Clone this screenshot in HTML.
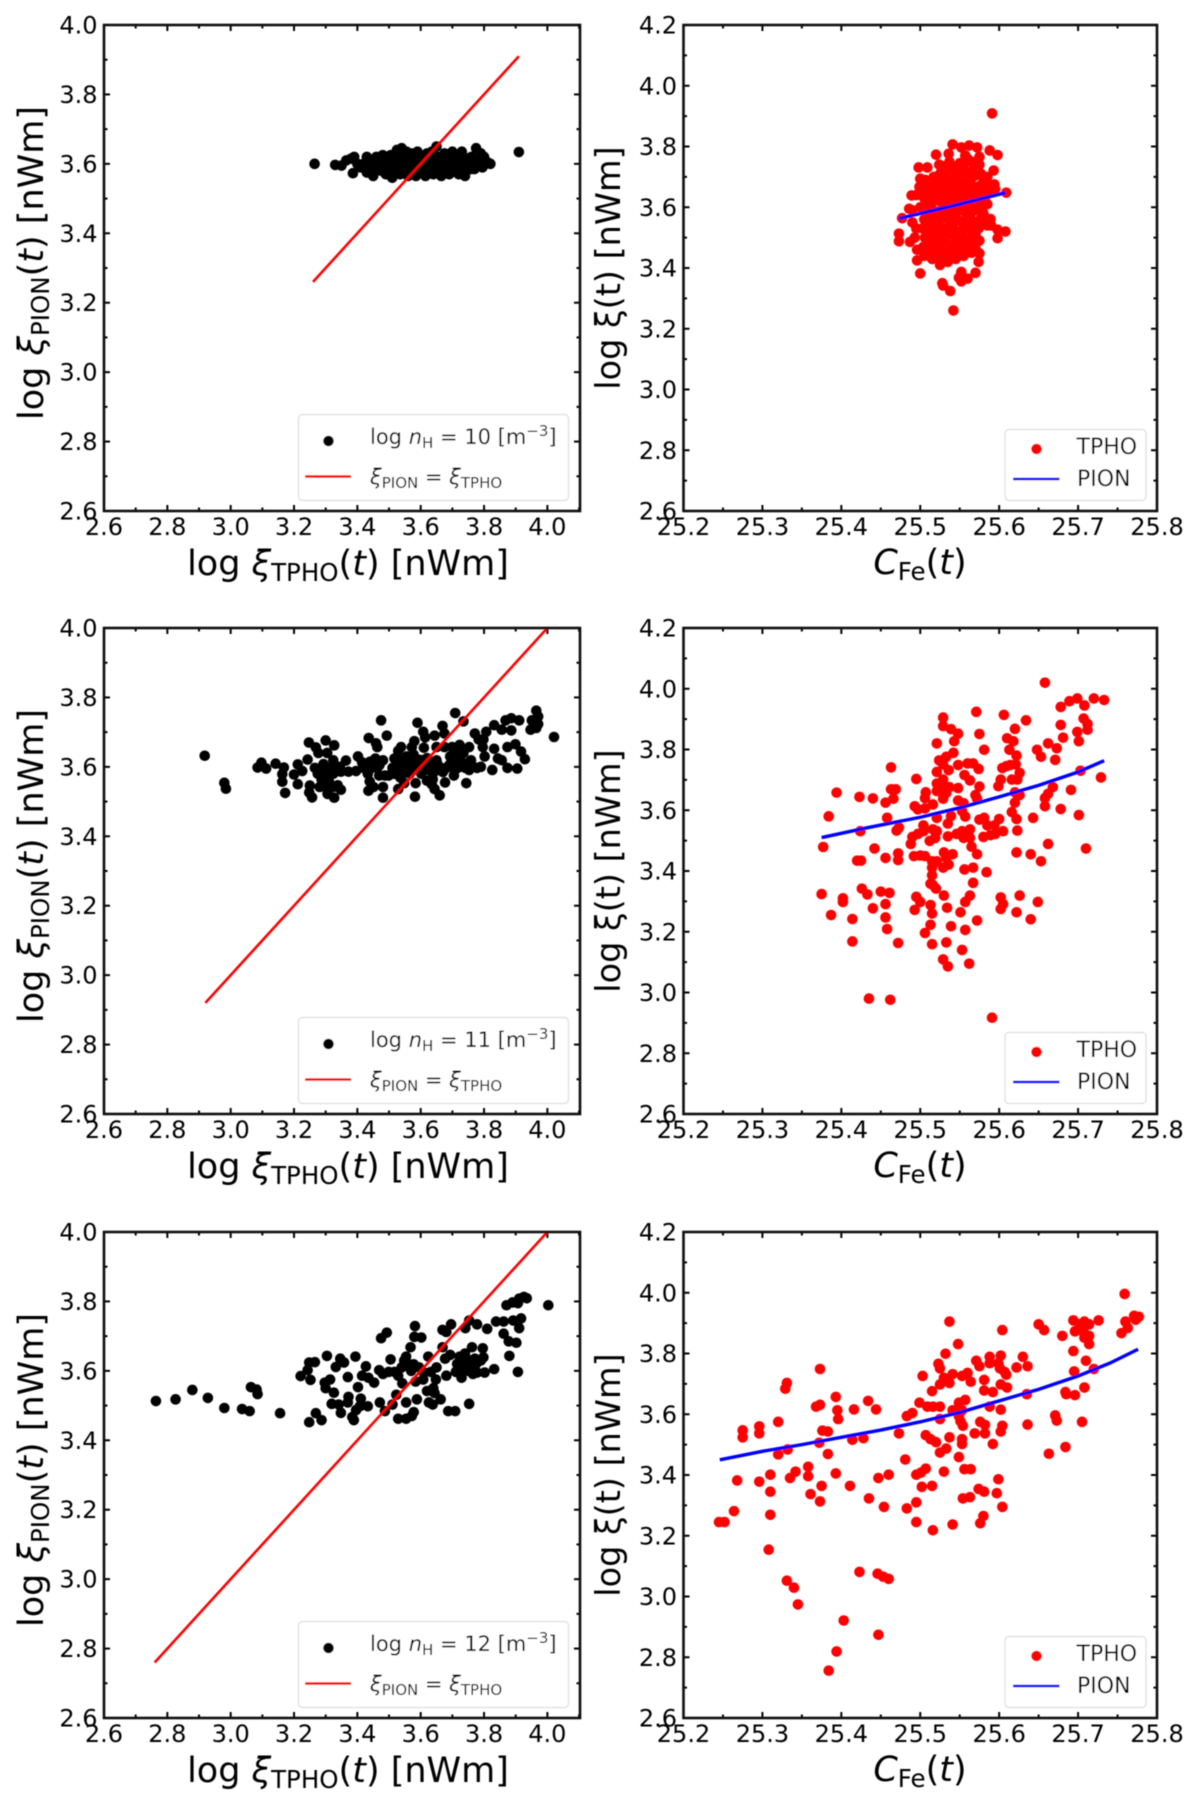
<!DOCTYPE html>
<html lang="en">
<head>
<meta charset="utf-8">
<title>Six scatter panels comparing PION and TPHO</title>
<style>
html,body{margin:0;padding:0;background:#fff;}
svg{display:block;}
text{font-family:"DejaVu Sans","Liberation Sans",sans-serif;fill:#000;}
.ax{font-size:35px;}
.tk{font-size:24px;}
.lg{font-size:21px;}
.it{font-style:italic;}
</style>
</head>
<body>
<svg id="figure" xmlns="http://www.w3.org/2000/svg" width="1200" height="1807" viewBox="0 0 1200 1807">
<defs><filter id="soft" x="-2%" y="-2%" width="104%" height="104%"><feGaussianBlur stdDeviation="0.55"/></filter></defs>
<rect width="1200" height="1807" fill="#fff"/>
<g filter="url(#soft)">

<g id="p1l">
<g class="marks"></g>
<text class="ax" x="348" y="575" text-anchor="middle">log <tspan class="it">ξ</tspan><tspan font-size="24.5" dy="6">TPHO</tspan><tspan dy="-6">(</tspan><tspan class="it">t</tspan>) [nWm]</text>
<text class="ax" transform="translate(43,263) rotate(-90)" text-anchor="middle">log <tspan class="it">ξ</tspan><tspan font-size="24.5" dy="6">PION</tspan><tspan dy="-6">(</tspan><tspan class="it">t</tspan>) [nWm]</text>
<g>
<rect x="298.5" y="414.5" width="270" height="86" rx="4" fill="#fff" fill-opacity="0.8" stroke="#ddd" stroke-width="1.2"/>
<circle cx="328.5" cy="441" r="5.3" fill="#000"/>
<text class="lg" x="370" y="444">log <tspan class="it">n</tspan><tspan font-size="15" dy="4">H</tspan><tspan dy="-4"> = 10 [m</tspan><tspan font-size="15" dy="-8">−3</tspan><tspan dy="8">]</tspan></text>
<line x1="305" x2="351" y1="476.5" y2="476.5" stroke="#f00" stroke-width="2.4"/>
<text class="lg" x="370" y="484"><tspan class="it">ξ</tspan><tspan font-size="15" dy="4">PION</tspan><tspan dy="-4"> = </tspan><tspan class="it">ξ</tspan><tspan font-size="15" dy="4">TPHO</tspan></text>
</g>
</g>

<g id="p1r">
<g class="marks"></g>
<text class="ax" x="920" y="574" text-anchor="middle"><tspan class="it">C</tspan><tspan font-size="24.5" dy="6">Fe</tspan><tspan dy="-6">(</tspan><tspan class="it">t</tspan>)</text>
<text class="ax" transform="translate(620,268) rotate(-90)" text-anchor="middle" style="font-size:33.5px">log ξ(t) [nWm]</text>
<g>
<rect x="1005" y="429.5" width="141" height="71" rx="4" fill="#fff" fill-opacity="0.8" stroke="#ddd" stroke-width="1.2"/>
<circle cx="1036.5" cy="449" r="5.3" fill="#f00"/>
<text class="lg" x="1076.5" y="454" style="font-size:22px">TPHO</text>
<line x1="1013" x2="1059.5" y1="479" y2="479" stroke="#00f" stroke-width="2.6"/>
<text class="lg" x="1077" y="486" style="font-size:22px">PION</text>
</g>
</g>

<g id="p2l" transform="translate(0,603)">
<g class="marks"></g>
<text class="ax" x="348" y="575" text-anchor="middle">log <tspan class="it">ξ</tspan><tspan font-size="24.5" dy="6">TPHO</tspan><tspan dy="-6">(</tspan><tspan class="it">t</tspan>) [nWm]</text>
<text class="ax" transform="translate(43,263) rotate(-90)" text-anchor="middle">log <tspan class="it">ξ</tspan><tspan font-size="24.5" dy="6">PION</tspan><tspan dy="-6">(</tspan><tspan class="it">t</tspan>) [nWm]</text>
<g>
<rect x="298.5" y="414.5" width="270" height="86" rx="4" fill="#fff" fill-opacity="0.8" stroke="#ddd" stroke-width="1.2"/>
<circle cx="328.5" cy="441" r="5.3" fill="#000"/>
<text class="lg" x="370" y="444">log <tspan class="it">n</tspan><tspan font-size="15" dy="4">H</tspan><tspan dy="-4"> = 11 [m</tspan><tspan font-size="15" dy="-8">−3</tspan><tspan dy="8">]</tspan></text>
<line x1="305" x2="351" y1="476.5" y2="476.5" stroke="#f00" stroke-width="2.4"/>
<text class="lg" x="370" y="484"><tspan class="it">ξ</tspan><tspan font-size="15" dy="4">PION</tspan><tspan dy="-4"> = </tspan><tspan class="it">ξ</tspan><tspan font-size="15" dy="4">TPHO</tspan></text>
</g>
</g>

<g id="p2r" transform="translate(0,603)">
<g class="marks"></g>
<text class="ax" x="920" y="574" text-anchor="middle"><tspan class="it">C</tspan><tspan font-size="24.5" dy="6">Fe</tspan><tspan dy="-6">(</tspan><tspan class="it">t</tspan>)</text>
<text class="ax" transform="translate(620,268) rotate(-90)" text-anchor="middle" style="font-size:33.5px">log ξ(t) [nWm]</text>
<g>
<rect x="1005" y="429.5" width="141" height="71" rx="4" fill="#fff" fill-opacity="0.8" stroke="#ddd" stroke-width="1.2"/>
<circle cx="1036.5" cy="449" r="5.3" fill="#f00"/>
<text class="lg" x="1076.5" y="454" style="font-size:22px">TPHO</text>
<line x1="1013" x2="1059.5" y1="479" y2="479" stroke="#00f" stroke-width="2.6"/>
<text class="lg" x="1077" y="486" style="font-size:22px">PION</text>
</g>
</g>

<g id="p3l" transform="translate(0,1207)">
<g class="marks"></g>
<text class="ax" x="348" y="575" text-anchor="middle">log <tspan class="it">ξ</tspan><tspan font-size="24.5" dy="6">TPHO</tspan><tspan dy="-6">(</tspan><tspan class="it">t</tspan>) [nWm]</text>
<text class="ax" transform="translate(43,263) rotate(-90)" text-anchor="middle">log <tspan class="it">ξ</tspan><tspan font-size="24.5" dy="6">PION</tspan><tspan dy="-6">(</tspan><tspan class="it">t</tspan>) [nWm]</text>
<g>
<rect x="298.5" y="414.5" width="270" height="86" rx="4" fill="#fff" fill-opacity="0.8" stroke="#ddd" stroke-width="1.2"/>
<circle cx="328.5" cy="441" r="5.3" fill="#000"/>
<text class="lg" x="370" y="444">log <tspan class="it">n</tspan><tspan font-size="15" dy="4">H</tspan><tspan dy="-4"> = 12 [m</tspan><tspan font-size="15" dy="-8">−3</tspan><tspan dy="8">]</tspan></text>
<line x1="305" x2="351" y1="476.5" y2="476.5" stroke="#f00" stroke-width="2.4"/>
<text class="lg" x="370" y="484"><tspan class="it">ξ</tspan><tspan font-size="15" dy="4">PION</tspan><tspan dy="-4"> = </tspan><tspan class="it">ξ</tspan><tspan font-size="15" dy="4">TPHO</tspan></text>
</g>
</g>

<g id="p3r" transform="translate(0,1207)">
<g class="marks"></g>
<text class="ax" x="920" y="574" text-anchor="middle"><tspan class="it">C</tspan><tspan font-size="24.5" dy="6">Fe</tspan><tspan dy="-6">(</tspan><tspan class="it">t</tspan>)</text>
<text class="ax" transform="translate(620,268) rotate(-90)" text-anchor="middle" style="font-size:33.5px">log ξ(t) [nWm]</text>
<g>
<rect x="1005" y="429.5" width="141" height="71" rx="4" fill="#fff" fill-opacity="0.8" stroke="#ddd" stroke-width="1.2"/>
<circle cx="1036.5" cy="449" r="5.3" fill="#f00"/>
<text class="lg" x="1076.5" y="454" style="font-size:22px">TPHO</text>
<line x1="1013" x2="1059.5" y1="479" y2="479" stroke="#00f" stroke-width="2.6"/>
<text class="lg" x="1077" y="486" style="font-size:22px">PION</text>
</g>
</g>

</g>
</svg>
<script>
// Tick labels
const comparisonTicks = ["2.6","2.8","3.0","3.2","3.4","3.6","3.8","4.0"];
const xiTicks = ["2.6","2.8","3.0","3.2","3.4","3.6","3.8","4.0","4.2"];
const carbonTicks = ["25.2","25.3","25.4","25.5","25.6","25.7","25.8"];

// Identity lines (log xi_TPHO = log xi_PION)
const identityNh10 = [[3.26,3.26],[3.91,3.91]];
const identityNh11 = [[2.92,2.92],[4.0,4.0]];
const identityNh12 = [[2.76,2.76],[4.0,4.0]];

// PION curves (C_Fe, log xi)
const pionNh10 = [[25.473,3.563],[25.54,3.604],[25.608,3.648]];
const pionNh11 = [[25.375,3.51],[25.434,3.543],[25.5,3.577],[25.55,3.608],[25.6,3.644],[25.65,3.682],[25.7,3.726],[25.733,3.763]];
const pionNh12 = [[25.246,3.45],[25.3,3.478],[25.35,3.5],[25.4,3.524],[25.45,3.548],[25.5,3.575],[25.55,3.606],[25.6,3.644],[25.65,3.682],[25.7,3.726],[25.74,3.768],[25.776,3.814]];

// PION versus TPHO scatter
const comparisonNh10 = [[3.265,3.60],[3.33,3.597],[3.35,3.595],[3.365,3.61],[3.38,3.615],[3.39,3.62],[3.386,3.573],[3.40,3.60],[3.41,3.59],[3.43,3.62],[3.43,3.575],[3.44,3.60],[3.45,3.565],[3.46,3.62],[3.465,3.585],[3.47,3.605],[3.48,3.625],[3.49,3.57],[3.495,3.595],[3.50,3.61],[3.51,3.56],[3.515,3.585],[3.52,3.63],[3.525,3.64],[3.53,3.605],[3.535,3.57],[3.54,3.645],[3.545,3.59],[3.55,3.62],[3.555,3.635],[3.56,3.565],[3.565,3.60],[3.57,3.63],[3.575,3.58],[3.58,3.615],[3.585,3.565],[3.59,3.635],[3.595,3.595],[3.60,3.62],[3.605,3.575],[3.61,3.605],[3.615,3.565],[3.62,3.63],[3.625,3.59],[3.63,3.61],[3.635,3.635],[3.64,3.57],[3.645,3.60],[3.65,3.65],[3.655,3.62],[3.66,3.585],[3.665,3.565],[3.67,3.605],[3.675,3.63],[3.68,3.58],[3.685,3.615],[3.69,3.57],[3.695,3.60],[3.70,3.635],[3.705,3.585],[3.71,3.615],[3.72,3.57],[3.725,3.60],[3.73,3.635],[3.74,3.585],[3.74,3.565],[3.745,3.615],[3.75,3.60],[3.76,3.62],[3.77,3.585],[3.775,3.645],[3.78,3.605],[3.79,3.63],[3.795,3.59],[3.80,3.62],[3.81,3.605],[3.82,3.60],[3.91,3.634],[3.42,3.60],[3.45,3.585],[3.475,3.58],[3.505,3.625],[3.52,3.60],[3.54,3.61],[3.55,3.575],[3.575,3.60],[3.60,3.60],[3.62,3.575],[3.64,3.62],[3.66,3.605],[3.69,3.625],[3.715,3.595],[3.735,3.61],[3.76,3.60],[3.785,3.615],[3.47,3.59],[3.50,3.58],[3.53,3.59],[3.56,3.59],[3.58,3.595],[3.61,3.585],[3.635,3.59],[3.67,3.585],[3.70,3.59],[3.73,3.585],[3.76,3.585]];
const comparisonNh11 = [[2.918,3.632],[2.98,3.554],[2.985,3.537],[3.085,3.598],[3.097,3.612],[3.112,3.595],[3.142,3.609],[3.168,3.598],[3.163,3.579],[3.163,3.557],[3.172,3.525],[3.2,3.578],[3.212,3.607],[3.226,3.588],[3.212,3.55],[3.243,3.621],[3.247,3.67],[3.269,3.656],[3.277,3.64],[3.3,3.676],[3.327,3.662],[3.305,3.64],[3.25,3.546],[3.248,3.526],[3.257,3.512],[3.266,3.597],[3.275,3.58],[3.293,3.608],[3.287,3.564],[3.3,3.542],[3.281,3.542],[3.306,3.522],[3.327,3.511],[3.324,3.542],[3.348,3.534],[3.338,3.547],[3.318,3.597],[3.324,3.619],[3.324,3.58],[3.364,3.618],[3.348,3.586],[3.372,3.586],[3.396,3.588],[3.402,3.63],[3.415,3.613],[3.42,3.597],[3.433,3.58],[3.439,3.558],[3.435,3.531],[3.451,3.542],[3.445,3.597],[3.463,3.597],[3.457,3.624],[3.481,3.619],[3.481,3.542],[3.481,3.511],[3.436,3.683],[3.459,3.668],[3.463,3.657],[3.475,3.734],[3.493,3.69],[3.469,3.575],[3.487,3.575],[3.499,3.575],[3.511,3.597],[3.517,3.624],[3.529,3.646],[3.538,3.657],[3.536,3.619],[3.548,3.597],[3.536,3.569],[3.529,3.536],[3.548,3.553],[3.556,3.63],[3.572,3.608],[3.578,3.635],[3.58,3.674],[3.572,3.657],[3.59,3.727],[3.608,3.701],[3.614,3.685],[3.584,3.553],[3.582,3.514],[3.566,3.58],[3.59,3.597],[3.602,3.58],[3.614,3.608],[3.626,3.591],[3.638,3.564],[3.644,3.536],[3.66,3.518],[3.626,3.613],[3.638,3.58],[3.65,3.619],[3.65,3.657],[3.675,3.657],[3.644,3.69],[3.675,3.696],[3.669,3.718],[3.677,3.555],[3.663,3.597],[3.681,3.597],[3.709,3.755],[3.735,3.731],[3.699,3.657],[3.723,3.663],[3.693,3.63],[3.711,3.619],[3.705,3.575],[3.717,3.597],[3.729,3.613],[3.741,3.597],[3.744,3.553],[3.753,3.591],[3.759,3.619],[3.778,3.597],[3.79,3.6],[3.771,3.696],[3.783,3.679],[3.807,3.701],[3.798,3.679],[3.753,3.657],[3.796,3.657],[3.802,3.63],[3.832,3.72],[3.832,3.652],[3.826,3.591],[3.844,3.624],[3.856,3.707],[3.868,3.734],[3.886,3.74],[3.911,3.734],[3.886,3.705],[3.874,3.657],[3.899,3.665],[3.856,3.619],[3.874,3.597],[3.905,3.595],[3.929,3.622],[3.917,3.644],[3.947,3.707],[3.951,3.734],[3.965,3.762],[3.971,3.745],[3.971,3.723],[3.965,3.712],[4.021,3.686],[3.518,3.58],[3.528,3.605],[3.542,3.58],[3.55,3.615],[3.562,3.6],[3.575,3.59],[3.585,3.615],[3.598,3.62],[3.606,3.6],[3.62,3.625],[3.63,3.6],[3.648,3.59],[3.655,3.605],[3.67,3.585],[3.69,3.605],[3.7,3.6],[3.71,3.64],[3.72,3.62],[3.735,3.64],[3.745,3.61],[3.765,3.6],[3.29,3.59],[3.305,3.575],[3.345,3.6],[3.31,3.56],[3.44,3.615],[3.47,3.605],[3.62,3.56],[3.635,3.55],[3.61,3.655]];
const comparisonNh12 = [[2.764,3.513],[2.826,3.518],[2.879,3.545],[2.928,3.522],[2.98,3.493],[3.036,3.49],[3.06,3.484],[3.064,3.553],[3.082,3.546],[3.085,3.533],[3.156,3.478],[3.221,3.585],[3.243,3.602],[3.248,3.624],[3.266,3.625],[3.252,3.574],[3.248,3.452],[3.269,3.478],[3.287,3.458],[3.304,3.643],[3.297,3.566],[3.314,3.575],[3.3,3.55],[3.326,3.537],[3.319,3.505],[3.341,3.503],[3.348,3.479],[3.332,3.611],[3.346,3.635],[3.358,3.624],[3.37,3.582],[3.372,3.525],[3.37,3.509],[3.384,3.467],[3.389,3.458],[3.394,3.641],[3.402,3.553],[3.396,3.487],[3.408,3.498],[3.411,3.52],[3.433,3.498],[3.415,3.586],[3.427,3.613],[3.435,3.58],[3.453,3.566],[3.469,3.602],[3.481,3.591],[3.471,3.509],[3.475,3.694],[3.493,3.71],[3.487,3.484],[3.505,3.633],[3.499,3.597],[3.517,3.597],[3.511,3.503],[3.523,3.531],[3.529,3.462],[3.529,3.586],[3.542,3.564],[3.548,3.63],[3.554,3.641],[3.554,3.509],[3.554,3.462],[3.568,3.668],[3.572,3.47],[3.578,3.481],[3.582,3.729],[3.578,3.619],[3.58,3.698],[3.602,3.696],[3.584,3.569],[3.588,3.518],[3.608,3.575],[3.624,3.641],[3.632,3.597],[3.65,3.61],[3.62,3.542],[3.626,3.509],[3.644,3.536],[3.638,3.503],[3.648,3.575],[3.663,3.518],[3.669,3.668],[3.669,3.718],[3.681,3.712],[3.696,3.734],[3.677,3.635],[3.687,3.484],[3.709,3.484],[3.681,3.586],[3.693,3.646],[3.723,3.641],[3.711,3.597],[3.729,3.58],[3.741,3.723],[3.753,3.745],[3.753,3.505],[3.735,3.619],[3.753,3.63],[3.765,3.591],[3.762,3.668],[3.778,3.734],[3.778,3.595],[3.771,3.635],[3.796,3.665],[3.798,3.639],[3.802,3.595],[3.81,3.721],[3.832,3.605],[3.838,3.742],[3.862,3.742],[3.862,3.707],[3.878,3.685],[3.88,3.643],[3.871,3.789],[3.89,3.797],[3.907,3.597],[3.902,3.681],[3.907,3.795],[3.911,3.723],[3.892,3.745],[3.917,3.751],[3.911,3.808],[3.926,3.813],[3.935,3.809],[4.003,3.789],[3.54,3.61],[3.56,3.62],[3.57,3.6],[3.595,3.61],[3.61,3.595],[3.64,3.55],[3.715,3.62],[3.725,3.61],[3.745,3.6],[3.755,3.615],[3.775,3.62],[3.79,3.63],[3.73,3.64],[3.74,3.65]];

// TPHO log xi versus C_Fe scatter
const tphoNh10 = [[25.591,3.909],[25.542,3.26],[25.538,3.324],[25.528,3.35],[25.529,3.342],[25.549,3.368],[25.552,3.356],[25.56,3.365],[25.57,3.384],[25.552,3.387],[25.50,3.382],[25.574,3.42],[25.575,3.448],[25.473,3.488],[25.473,3.513],[25.487,3.486],[25.598,3.498],[25.608,3.52],[25.598,3.526],[25.59,3.54],[25.589,3.561],[25.58,3.558],[25.609,3.648],[25.598,3.772],[25.588,3.787],[25.575,3.766],[25.572,3.797],[25.562,3.803],[25.552,3.797],[25.541,3.807],[25.536,3.776],[25.52,3.773],[25.498,3.731],[25.509,3.731],[25.593,3.721],[25.489,3.639],[25.477,3.564],[25.486,3.595],[25.499,3.667],[25.50,3.694],[25.496,3.425],[25.505,3.44],[25.504,3.47],[25.506,3.50],[25.503,3.53],[25.505,3.56],[25.507,3.60],[25.505,3.63],[25.504,3.66],[25.506,3.69],[25.515,3.43],[25.516,3.46],[25.514,3.49],[25.515,3.52],[25.517,3.55],[25.515,3.58],[25.514,3.61],[25.516,3.64],[25.515,3.67],[25.517,3.70],[25.525,3.41],[25.524,3.44],[25.526,3.47],[25.525,3.50],[25.523,3.53],[25.525,3.56],[25.527,3.59],[25.525,3.62],[25.524,3.65],[25.526,3.68],[25.525,3.71],[25.524,3.74],[25.535,3.42],[25.536,3.45],[25.534,3.48],[25.535,3.51],[25.537,3.54],[25.535,3.57],[25.534,3.60],[25.536,3.63],[25.535,3.66],[25.533,3.69],[25.535,3.72],[25.537,3.75],[25.545,3.43],[25.544,3.46],[25.546,3.49],[25.545,3.52],[25.543,3.55],[25.545,3.58],[25.547,3.61],[25.545,3.64],[25.544,3.67],[25.546,3.70],[25.545,3.73],[25.555,3.44],[25.556,3.47],[25.554,3.50],[25.555,3.53],[25.557,3.56],[25.555,3.59],[25.554,3.62],[25.556,3.65],[25.555,3.68],[25.553,3.71],[25.555,3.74],[25.557,3.77],[25.565,3.45],[25.564,3.48],[25.566,3.51],[25.565,3.54],[25.563,3.57],[25.565,3.60],[25.567,3.63],[25.565,3.66],[25.564,3.69],[25.566,3.72],[25.565,3.75],[25.575,3.49],[25.574,3.53],[25.576,3.56],[25.575,3.60],[25.573,3.64],[25.575,3.67],[25.577,3.71],[25.575,3.74],[25.585,3.61],[25.584,3.64],[25.586,3.67],[25.585,3.70],[25.595,3.66],[25.594,3.675],[25.51,3.445],[25.51,3.48],[25.51,3.515],[25.51,3.55],[25.51,3.59],[25.51,3.625],[25.51,3.66],[25.52,3.445],[25.52,3.48],[25.52,3.515],[25.52,3.55],[25.52,3.585],[25.52,3.625],[25.52,3.66],[25.52,3.695],[25.53,3.425],[25.53,3.46],[25.53,3.495],[25.53,3.53],[25.53,3.565],[25.53,3.61],[25.53,3.645],[25.53,3.68],[25.53,3.735],[25.54,3.44],[25.54,3.475],[25.54,3.51],[25.54,3.545],[25.54,3.585],[25.54,3.62],[25.54,3.655],[25.54,3.69],[25.54,3.725],[25.55,3.45],[25.55,3.485],[25.55,3.52],[25.55,3.555],[25.55,3.59],[25.55,3.63],[25.55,3.665],[25.55,3.70],[25.55,3.745],[25.56,3.46],[25.56,3.495],[25.56,3.53],[25.56,3.565],[25.56,3.61],[25.56,3.645],[25.56,3.68],[25.56,3.715],[25.56,3.76],[25.57,3.465],[25.57,3.51],[25.57,3.55],[25.57,3.59],[25.57,3.63],[25.57,3.665],[25.57,3.705],[25.58,3.58],[25.58,3.625],[25.58,3.66],[25.58,3.695],[25.49,3.55],[25.493,3.50],[25.496,3.46],[25.49,3.59],[25.495,3.64],[25.585,3.54],[25.59,3.655],[25.495,3.53],[25.5,3.60]];
const tphoNh11 = [[25.658,4.02],[25.571,3.924],[25.606,3.914],[25.529,3.905],[25.529,3.877],[25.539,3.867],[25.548,3.852],[25.543,3.827],[25.521,3.82],[25.575,3.851],[25.634,3.896],[25.62,3.868],[25.61,3.837],[25.618,3.827],[25.613,3.799],[25.622,3.78],[25.581,3.799],[25.648,3.799],[25.653,3.776],[25.662,3.82],[25.673,3.804],[25.671,3.766],[25.678,3.94],[25.689,3.959],[25.699,3.968],[25.708,3.945],[25.72,3.968],[25.733,3.963],[25.707,3.902],[25.712,3.884],[25.712,3.865],[25.699,3.858],[25.701,3.827],[25.678,3.881],[25.681,3.839],[25.729,3.708],[25.703,3.73],[25.691,3.667],[25.678,3.604],[25.701,3.584],[25.71,3.474],[25.662,3.489],[25.653,3.432],[25.64,3.455],[25.622,3.461],[25.643,3.575],[25.668,3.676],[25.662,3.654],[25.658,3.64],[25.658,3.613],[25.649,3.298],[25.64,3.241],[25.626,3.319],[25.622,3.264],[25.602,3.313],[25.605,3.291],[25.602,3.275],[25.584,3.396],[25.572,3.237],[25.563,3.319],[25.567,3.361],[25.567,3.411],[25.556,3.405],[25.557,3.298],[25.551,3.264],[25.557,3.206],[25.553,3.14],[25.562,3.095],[25.535,3.086],[25.529,3.109],[25.533,3.165],[25.539,3.218],[25.534,3.279],[25.53,3.319],[25.515,3.159],[25.506,3.196],[25.513,3.223],[25.515,3.26],[25.513,3.288],[25.493,3.272],[25.5,3.298],[25.495,3.315],[25.52,3.342],[25.516,3.354],[25.513,3.358],[25.515,3.386],[25.515,3.411],[25.515,3.432],[25.521,3.432],[25.529,3.411],[25.536,3.421],[25.53,3.461],[25.541,3.455],[25.533,3.443],[25.506,3.449],[25.5,3.451],[25.492,3.449],[25.472,3.436],[25.472,3.458],[25.456,3.443],[25.442,3.474],[25.42,3.434],[25.425,3.434],[25.377,3.479],[25.384,3.58],[25.394,3.658],[25.424,3.531],[25.423,3.644],[25.44,3.639],[25.456,3.625],[25.458,3.575],[25.466,3.638],[25.463,3.741],[25.463,3.669],[25.469,3.669],[25.47,3.533],[25.473,3.543],[25.488,3.489],[25.49,3.512],[25.497,3.522],[25.495,3.703],[25.493,3.613],[25.497,3.603],[25.506,3.606],[25.506,3.64],[25.507,3.659],[25.504,3.55],[25.504,3.531],[25.512,3.499],[25.516,3.537],[25.521,3.531],[25.519,3.509],[25.516,3.619],[25.521,3.726],[25.524,3.764],[25.529,3.751],[25.533,3.776],[25.542,3.789],[25.536,3.732],[25.548,3.749],[25.521,3.688],[25.521,3.663],[25.529,3.701],[25.531,3.676],[25.529,3.638],[25.533,3.657],[25.537,3.676],[25.548,3.673],[25.521,3.575],[25.535,3.556],[25.535,3.514],[25.539,3.581],[25.548,3.632],[25.555,3.623],[25.553,3.597],[25.557,3.579],[25.546,3.522],[25.553,3.531],[25.555,3.509],[25.563,3.537],[25.563,3.509],[25.565,3.48],[25.572,3.455],[25.56,3.754],[25.567,3.754],[25.574,3.736],[25.556,3.716],[25.563,3.698],[25.575,3.678],[25.57,3.65],[25.572,3.638],[25.575,3.569],[25.581,3.575],[25.58,3.512],[25.585,3.55],[25.589,3.518],[25.594,3.55],[25.595,3.522],[25.6,3.571],[25.605,3.531],[25.599,3.679],[25.602,3.701],[25.604,3.739],[25.609,3.745],[25.614,3.749],[25.621,3.751],[25.626,3.723],[25.616,3.701],[25.623,3.701],[25.62,3.659],[25.626,3.65],[25.62,3.625],[25.616,3.594],[25.622,3.571],[25.623,3.533],[25.375,3.324],[25.402,3.31],[25.402,3.298],[25.426,3.342],[25.433,3.323],[25.45,3.332],[25.461,3.328],[25.456,3.291],[25.44,3.277],[25.387,3.255],[25.414,3.242],[25.456,3.247],[25.458,3.209],[25.414,3.168],[25.472,3.163],[25.435,2.98],[25.462,2.976],[25.591,2.917]];
const tphoNh12 = [[25.759,3.996],[25.76,3.905],[25.755,3.867],[25.763,3.884],[25.771,3.924],[25.777,3.921],[25.773,3.911],[25.726,3.909],[25.708,3.905],[25.714,3.896],[25.694,3.909],[25.702,3.896],[25.696,3.873],[25.707,3.871],[25.714,3.858],[25.714,3.831],[25.708,3.852],[25.694,3.808],[25.71,3.776],[25.695,3.741],[25.72,3.749],[25.708,3.688],[25.696,3.663],[25.684,3.673],[25.685,3.666],[25.705,3.575],[25.671,3.596],[25.673,3.579],[25.684,3.492],[25.663,3.47],[25.65,3.896],[25.657,3.877],[25.68,3.858],[25.63,3.789],[25.636,3.758],[25.622,3.754],[25.604,3.877],[25.602,3.793],[25.588,3.789],[25.588,3.768],[25.599,3.768],[25.571,3.776],[25.575,3.758],[25.601,3.751],[25.607,3.739],[25.609,3.73],[25.602,3.698],[25.61,3.688],[25.581,3.713],[25.581,3.678],[25.592,3.673],[25.635,3.666],[25.636,3.566],[25.602,3.615],[25.588,3.625],[25.604,3.562],[25.602,3.543],[25.576,3.575],[25.582,3.565],[25.582,3.537],[25.569,3.537],[25.592,3.502],[25.537,3.905],[25.548,3.831],[25.532,3.799],[25.523,3.766],[25.525,3.751],[25.541,3.732],[25.53,3.72],[25.525,3.698],[25.537,3.703],[25.56,3.736],[25.553,3.726],[25.564,3.707],[25.503,3.726],[25.515,3.676],[25.499,3.638],[25.557,3.647],[25.549,3.638],[25.509,3.625],[25.516,3.625],[25.525,3.625],[25.541,3.613],[25.553,3.613],[25.525,3.584],[25.549,3.594],[25.551,3.577],[25.554,3.562],[25.49,3.604],[25.483,3.594],[25.553,3.518],[25.553,3.502],[25.537,3.524],[25.507,3.531],[25.513,3.518],[25.52,3.508],[25.525,3.474],[25.533,3.487],[25.549,3.459],[25.481,3.451],[25.473,3.537],[25.428,3.521],[25.414,3.516],[25.444,3.616],[25.434,3.644],[25.416,3.616],[25.393,3.657],[25.395,3.613],[25.396,3.584],[25.383,3.469],[25.376,3.546],[25.383,3.543],[25.372,3.506],[25.373,3.631],[25.368,3.625],[25.373,3.749],[25.331,3.703],[25.329,3.684],[25.32,3.575],[25.275,3.547],[25.275,3.524],[25.296,3.56],[25.296,3.537],[25.32,3.468],[25.332,3.484],[25.268,3.382],[25.296,3.378],[25.31,3.401],[25.31,3.345],[25.335,3.39],[25.342,3.411],[25.358,3.427],[25.358,3.396],[25.361,3.337],[25.375,3.364],[25.373,3.313],[25.393,3.405],[25.411,3.364],[25.435,3.323],[25.447,3.39],[25.46,3.401],[25.454,3.295],[25.483,3.29],[25.495,3.31],[25.495,3.245],[25.516,3.218],[25.541,3.237],[25.576,3.241],[25.58,3.265],[25.604,3.295],[25.597,3.34],[25.599,3.386],[25.574,3.354],[25.581,3.345],[25.563,3.327],[25.554,3.323],[25.556,3.419],[25.564,3.419],[25.53,3.411],[25.515,3.364],[25.502,3.361],[25.495,3.401],[25.501,3.408],[25.507,3.421],[25.264,3.281],[25.31,3.269],[25.245,3.245],[25.252,3.245],[25.308,3.154],[25.331,3.052],[25.34,3.029],[25.345,2.974],[25.403,2.921],[25.423,3.081],[25.446,3.075],[25.453,3.065],[25.46,3.058],[25.447,2.874],[25.394,2.819],[25.384,2.756]];

const SVGNS = 'http://www.w3.org/2000/svg';

function make(parent, tag, attrs) {
  const el = document.createElementNS(SVGNS, tag);
  Object.keys(attrs).forEach(function (k) { el.setAttribute(k, attrs[k]); });
  parent.appendChild(el);
  return el;
}

function drawPanel(id, box, xDomain, yDomain, xLabels, yLabels, points, pointColor, linePoints, lineColor, lineWidth) {
  const marks = document.querySelector('#' + id + ' .marks');
  const sx = function (v) { return box.l + (v - xDomain[0]) / (xDomain[1] - xDomain[0]) * (box.r - box.l); };
  const sy = function (v) { return box.b - (v - yDomain[0]) / (yDomain[1] - yDomain[0]) * (box.b - box.t); };

  // minor and major ticks along both axes, mirrored on opposite spines
  const xMajorStep = parseFloat(xLabels[1]) - parseFloat(xLabels[0]);
  const yMajorStep = parseFloat(yLabels[1]) - parseFloat(yLabels[0]);
  for (let v = parseFloat(xLabels[0]); v <= xDomain[1] + 1e-6; v += xMajorStep / 2) {
    const major = Math.abs(Math.round((v - parseFloat(xLabels[0])) / xMajorStep) * xMajorStep - (v - parseFloat(xLabels[0]))) < 1e-6;
    const len = major ? 6 : 3.5;
    const t1 = make(marks, 'line', {x1: sx(v), x2: sx(v), y1: box.b, y2: box.b - len, stroke: '#000', 'stroke-width': 2});
    
    
    const t2 = make(marks, 'line', {x1: sx(v), x2: sx(v), y1: box.t, y2: box.t + len, stroke: '#000', 'stroke-width': 2});
    
    
  }
  for (let v = parseFloat(yLabels[0]); v <= yDomain[1] + 1e-6; v += yMajorStep / 2) {
    const major = Math.abs(Math.round((v - parseFloat(yLabels[0])) / yMajorStep) * yMajorStep - (v - parseFloat(yLabels[0]))) < 1e-6;
    const len = major ? 6 : 3.5;
    const t3 = make(marks, 'line', {x1: box.l, x2: box.l + len, y1: sy(v), y2: sy(v), stroke: '#000', 'stroke-width': 2});
    
    
    const t4 = make(marks, 'line', {x1: box.r, x2: box.r - len, y1: sy(v), y2: sy(v), stroke: '#000', 'stroke-width': 2});
    
    
  }

  xLabels.forEach(function (lab) {
    const tx = make(marks, 'text', {x: sx(parseFloat(lab)), y: box.b + 24, 'text-anchor': 'middle', class: 'tk'});
    tx.textContent = lab;
    
    
  });
  yLabels.forEach(function (lab) {
    const ty = make(marks, 'text', {x: box.l - 6.5, y: sy(parseFloat(lab)) + 8.5, 'text-anchor': 'end', class: 'tk'});
    ty.textContent = lab;
    
    
  });

  points.forEach(function (p) {
    const c = make(marks, 'circle', {cx: sx(p[0]), cy: sy(p[1]), r: 5.3, fill: pointColor});
    
    
  });

  const path = make(marks, 'polyline', {
    points: linePoints.map(function (p) { return sx(p[0]) + ',' + sy(p[1]); }).join(' '),
    fill: 'none', stroke: lineColor, 'stroke-width': lineWidth
  });
  
  

  const frame = make(marks, 'rect', {x: box.l, y: box.t, width: box.r - box.l, height: box.b - box.t, fill: 'none', stroke: '#111', 'stroke-width': 2.6});
  
  
}

const leftBox = {l: 104, r: 580, t: 25, b: 511};
const rightBox = {l: 683.5, r: 1157, t: 25, b: 511};
const comparisonX = [2.6, 4.103];
const comparisonY = [2.6, 4.0];
const carbonX = [25.2, 25.8];
const xiY = [2.6, 4.2];

drawPanel('p1l', leftBox, comparisonX, comparisonY, comparisonTicks, comparisonTicks, comparisonNh10, '#000', identityNh10, '#f00', 2.6);
drawPanel('p2l', leftBox, comparisonX, comparisonY, comparisonTicks, comparisonTicks, comparisonNh11, '#000', identityNh11, '#f00', 2.6);
drawPanel('p3l', leftBox, comparisonX, comparisonY, comparisonTicks, comparisonTicks, comparisonNh12, '#000', identityNh12, '#f00', 2.6);
drawPanel('p1r', rightBox, carbonX, xiY, carbonTicks, xiTicks, tphoNh10, '#f00', pionNh10, '#00f', 3.4);
drawPanel('p2r', rightBox, carbonX, xiY, carbonTicks, xiTicks, tphoNh11, '#f00', pionNh11, '#00f', 3.4);
drawPanel('p3r', rightBox, carbonX, xiY, carbonTicks, xiTicks, tphoNh12, '#f00', pionNh12, '#00f', 3.4);
</script>
</body>
</html>
